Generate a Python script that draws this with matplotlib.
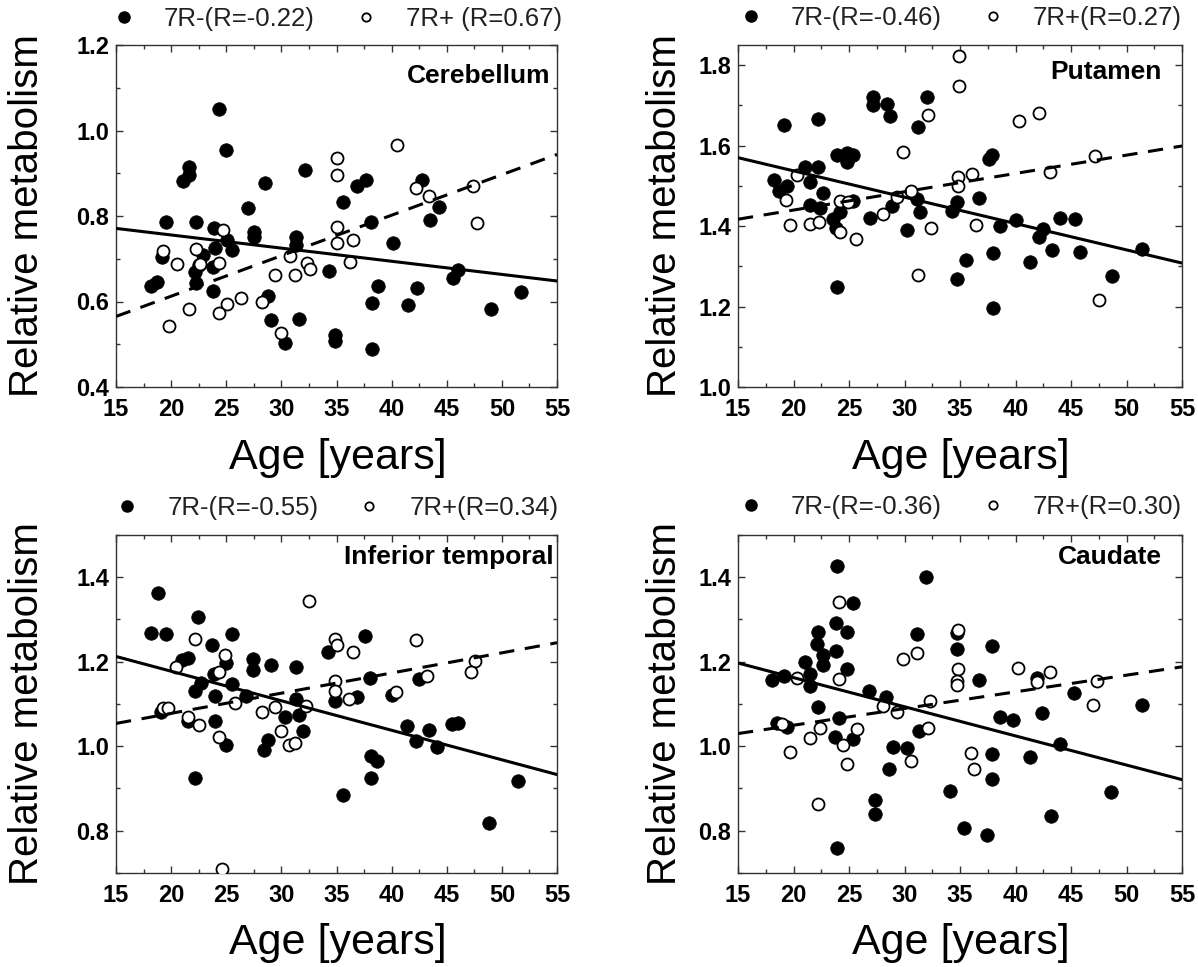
import matplotlib
matplotlib.use("Agg")
import matplotlib.pyplot as plt
from matplotlib.lines import Line2D
from matplotlib.ticker import MultipleLocator, FormatStrFormatter

plt.rcParams['font.family'] = ['Liberation Sans', 'DejaVu Sans']

# ---------------- data ----------------
fit_x = [15, 55]

# Cerebellum
cer_neg_x = [24.3, 25.0, 21.6, 21.6, 21.1, 32.1, 28.5, 27.0, 37.7, 36.9, 35.6, 42.8, 44.3, 43.5,
             38.1, 40.1, 19.5, 22.3, 23.9, 27.5, 27.5, 31.3, 31.3, 25.1, 25.5, 24.0, 22.9, 19.2,
             22.5, 22.2, 23.8, 22.3, 18.7, 18.2, 23.8, 28.8, 34.3, 29.1, 31.6, 30.3, 34.9, 34.9,
             38.2, 38.2, 38.8, 41.5, 42.3, 46.0, 45.6, 49.0, 51.7]
cer_neg_y = [1.050, 0.954, 0.915, 0.895, 0.881, 0.907, 0.878, 0.819, 0.884, 0.871, 0.833, 0.885,
             0.820, 0.790, 0.786, 0.738, 0.786, 0.785, 0.771, 0.763, 0.751, 0.750, 0.732, 0.745,
             0.720, 0.724, 0.708, 0.704, 0.685, 0.669, 0.681, 0.643, 0.646, 0.636, 0.625, 0.612,
             0.671, 0.556, 0.560, 0.504, 0.521, 0.507, 0.490, 0.597, 0.636, 0.591, 0.632, 0.673,
             0.654, 0.583, 0.622]
cer_pos_x = [40.5, 35.0, 35.0, 47.4, 42.2, 43.4, 47.7, 35.0, 35.0, 36.5, 36.2, 24.7, 19.3, 22.3,
             20.5, 22.6, 24.3, 30.8, 32.3, 32.6, 29.4, 31.2, 26.3, 25.1, 24.3, 21.6, 28.2, 19.8, 30.0]
cer_pos_y = [0.967, 0.936, 0.897, 0.870, 0.866, 0.846, 0.784, 0.775, 0.737, 0.743, 0.693, 0.767,
             0.718, 0.723, 0.687, 0.687, 0.690, 0.706, 0.690, 0.677, 0.663, 0.663, 0.609, 0.593,
             0.573, 0.582, 0.599, 0.542, 0.526]
cer_neg_fit = [0.771, 0.648]
cer_pos_fit = [0.565, 0.944]

# Putamen
put_neg_x = [19.1, 22.2, 27.2, 27.2, 28.4, 28.7, 32.0, 31.2, 23.9, 24.8, 25.4, 24.8, 37.6, 37.9,
             21.0, 22.2, 18.2, 21.5, 19.4, 18.7, 22.7, 21.5, 22.4, 24.2, 23.6, 23.8, 25.4, 28.9,
             31.1, 31.4, 26.9, 30.2, 34.7, 34.3, 36.7, 38.6, 40.0, 42.5, 42.1, 44.0, 45.4, 43.3,
             45.8, 41.3, 35.5, 38.0, 34.7, 23.9, 51.4, 48.7, 38.0]
put_neg_y = [1.652, 1.667, 1.722, 1.701, 1.703, 1.674, 1.722, 1.645, 1.576, 1.581, 1.576, 1.558,
             1.566, 1.576, 1.548, 1.546, 1.515, 1.510, 1.500, 1.488, 1.482, 1.453, 1.446, 1.435,
             1.417, 1.396, 1.463, 1.450, 1.467, 1.436, 1.421, 1.391, 1.460, 1.438, 1.469, 1.400,
             1.415, 1.392, 1.372, 1.421, 1.417, 1.341, 1.336, 1.311, 1.315, 1.333, 1.268, 1.249,
             1.344, 1.275, 1.196]
put_pos_x = [34.9, 34.9, 32.1, 40.3, 42.1, 29.9, 47.2, 43.1, 36.1, 34.8, 34.8, 30.6, 29.3, 20.3,
             19.3, 24.2, 24.9, 28.1, 19.7, 21.5, 22.3, 24.2, 25.6, 32.4, 36.4, 31.2, 47.5]
put_pos_y = [1.822, 1.749, 1.677, 1.660, 1.680, 1.585, 1.575, 1.535, 1.529, 1.522, 1.500, 1.488,
             1.473, 1.527, 1.465, 1.463, 1.461, 1.430, 1.403, 1.406, 1.411, 1.384, 1.367, 1.394,
             1.402, 1.279, 1.216]
put_neg_fit = [1.570, 1.308]
put_pos_fit = [1.417, 1.599]

# Inferior temporal
it_neg_x = [18.8, 18.2, 19.5, 22.4, 25.5, 23.7, 21.5, 21.0, 25.0, 27.4, 27.4, 29.1, 31.3, 34.2,
            37.6, 38.0, 42.5, 23.9, 22.7, 22.2, 24.0, 25.5, 26.8, 31.3, 30.3, 31.6, 34.9, 36.9,
            40.0, 19.1, 21.5, 24.0, 32.0, 28.8, 28.4, 25.0, 41.4, 43.4, 45.5, 46.0, 42.2, 44.1,
            38.1, 38.7, 38.1, 22.2, 35.6, 51.5, 48.8]
it_neg_y = [1.362, 1.269, 1.265, 1.305, 1.265, 1.240, 1.210, 1.205, 1.197, 1.207, 1.181, 1.193,
            1.187, 1.224, 1.262, 1.162, 1.158, 1.170, 1.150, 1.130, 1.119, 1.148, 1.119, 1.111,
            1.070, 1.074, 1.107, 1.117, 1.121, 1.080, 1.060, 1.059, 1.037, 1.015, 0.990, 1.002,
            1.048, 1.038, 1.052, 1.054, 1.013, 0.998, 0.976, 0.964, 0.925, 0.926, 0.884, 0.918,
            0.818]
it_pos_x = [32.5, 42.2, 34.9, 35.0, 36.5, 22.2, 24.9, 24.3, 20.4, 43.2, 47.6, 47.2, 34.9, 34.9,
            36.1, 40.4, 25.8, 29.4, 32.2, 19.3, 19.7, 28.2, 21.5, 22.5, 30.0, 30.7, 31.2, 24.3,
            24.6]
it_pos_y = [1.344, 1.252, 1.255, 1.240, 1.222, 1.255, 1.216, 1.175, 1.187, 1.166, 1.201, 1.176,
            1.155, 1.130, 1.111, 1.129, 1.102, 1.094, 1.095, 1.091, 1.091, 1.080, 1.070, 1.050,
            1.037, 1.003, 1.008, 1.023, 0.709]
it_neg_fit = [1.2125, 0.933]
it_pos_fit = [1.054, 1.245]

# Caudate
cau_neg_x = [23.9, 31.9, 25.4, 23.8, 24.8, 22.2, 22.1, 22.7, 22.7, 23.8, 31.1, 21.0, 24.8, 21.5,
             21.5, 18.1, 19.1, 26.8, 28.3, 34.7, 34.7, 37.9, 36.7, 41.9, 45.3, 51.4, 22.2, 24.1,
             18.5, 19.4, 38.6, 39.8, 42.4, 23.7, 25.4, 31.3, 29.0, 30.2, 28.6, 37.9, 41.3, 44.0,
             37.9, 34.1, 27.3, 27.3, 43.2, 35.4, 37.4, 48.6, 23.9]
cau_neg_y = [1.427, 1.400, 1.340, 1.291, 1.270, 1.271, 1.242, 1.215, 1.193, 1.226, 1.265, 1.200,
             1.182, 1.170, 1.143, 1.156, 1.166, 1.131, 1.117, 1.229, 1.268, 1.238, 1.156, 1.162,
             1.127, 1.098, 1.094, 1.066, 1.055, 1.045, 1.069, 1.063, 1.078, 1.022, 1.018, 1.035,
             0.999, 0.995, 0.946, 0.981, 0.975, 1.006, 0.922, 0.893, 0.872, 0.839, 0.836, 0.806,
             0.790, 0.892, 0.759]
cau_pos_x = [24.1, 34.8, 29.9, 31.1, 34.8, 34.7, 34.7, 40.2, 43.1, 41.9, 47.3, 47.0, 24.1, 20.3,
             32.3, 28.1, 29.3, 19.0, 22.4, 25.7, 32.1, 21.5, 24.5, 19.7, 36.0, 24.8, 30.6, 36.3,
             22.2]
cau_pos_y = [1.342, 1.274, 1.207, 1.221, 1.182, 1.154, 1.145, 1.186, 1.176, 1.153, 1.154, 1.098,
             1.160, 1.161, 1.106, 1.096, 1.082, 1.052, 1.044, 1.041, 1.044, 1.020, 1.003, 0.987,
             0.985, 0.957, 0.964, 0.946, 0.864]
cau_neg_fit = [1.197, 0.921]
cau_pos_fit = [1.030, 1.188]

titles = ["Cerebellum", "Putamen", "Inferior temporal", "Caudate"]
neg_labels = ["7R-(R=-0.22)", "7R-(R=-0.46)", "7R-(R=-0.55)", "7R-(R=-0.36)"]
pos_labels = ["7R+ (R=0.67)", "7R+(R=0.27)", "7R+(R=0.34)", "7R+(R=0.30)"]
ylims = [(0.4, 1.2), (1.0, 1.85), (0.7, 1.5), (0.7, 1.5)]
yticks = [[0.4, 0.6, 0.8, 1.0, 1.2], [1.0, 1.2, 1.4, 1.6, 1.8],
          [0.8, 1.0, 1.2, 1.4], [0.8, 1.0, 1.2, 1.4]]
xticks = [15, 20, 25, 30, 35, 40, 45, 50, 55]

panels = [
    (cer_neg_x, cer_neg_y, cer_pos_x, cer_pos_y, cer_neg_fit, cer_pos_fit),
    (put_neg_x, put_neg_y, put_pos_x, put_pos_y, put_neg_fit, put_pos_fit),
    (it_neg_x, it_neg_y, it_pos_x, it_pos_y, it_neg_fit, it_pos_fit),
    (cau_neg_x, cau_neg_y, cau_pos_x, cau_pos_y, cau_neg_fit, cau_pos_fit),
]

# ---------------- layout ----------------
W, H = 1198, 967
fig = plt.figure(figsize=(W / 100, H / 100), dpi=100)
boxes = [(116, 557, 45, 387), (738, 1182, 45, 387),
         (116, 557, 535, 873), (738, 1182, 535, 873)]
title_pos = [(0.985, 0.89), (0.955, 0.90), (0.993, 0.915), (0.955, 0.915)]
ylabel_x = [27, 665, 27, 665]
xlabel_y = [458, 458, 943, 943]
legend_y = [19, 18, 508, 507]

for i, (nx, ny, px, py, nf, pf) in enumerate(panels):
    l, r, t, b = boxes[i]
    ax = fig.add_axes([l / W, 1 - b / H, (r - l) / W, (b - t) / H])
    ax.scatter(nx, ny, s=95, c='black', edgecolors='black', linewidths=0.5, zorder=3)
    ax.scatter(px, py, s=75, facecolors='white', edgecolors='black', linewidths=1.3, zorder=4)
    ax.plot(fit_x, nf, color='black', lw=2.2, zorder=5)
    ax.plot(fit_x, pf, color='black', lw=2.2, ls=(0, (5, 3.5)), zorder=5)

    ax.set_xlim(15, 55)
    ax.set_ylim(*ylims[i])
    ax.set_xticks(xticks)
    ax.set_yticks(yticks[i])
    ax.xaxis.set_minor_locator(MultipleLocator(2.5))
    ax.yaxis.set_minor_locator(MultipleLocator(0.1))
    ax.yaxis.set_major_formatter(FormatStrFormatter('%.1f'))
    ax.tick_params(which='both', direction='in', top=True, right=True, colors='#333333',
                   labelcolor='black')
    ax.tick_params(which='major', length=5, width=1)
    ax.tick_params(which='minor', length=3, width=1)
    ax.tick_params(axis='x', labelsize=17, pad=8)
    ax.tick_params(axis='y', labelsize=17, pad=5)
    for lab in ax.get_xticklabels() + ax.get_yticklabels():
        lab.set_fontweight('bold')
    for sp in ax.spines.values():
        sp.set_color('#333333')
        sp.set_linewidth(1.0)

    ax.text(title_pos[i][0], title_pos[i][1], titles[i], transform=ax.transAxes,
            ha='right', va='baseline', fontsize=19, fontweight='bold')

    fig.text(ylabel_x[i] / W, 1 - ((t + b) / 2) / H, "Relative metabolism", rotation=90,
             ha='center', va='center', fontsize=29)
    fig.text(((l + r) / 2 + 1) / W, 1 - xlabel_y[i] / H, "Age [years]",
             ha='center', va='center', fontsize=31)

    handles = [Line2D([], [], ls='none', marker='o', ms=8, mfc='black', mec='black'),
               Line2D([], [], ls='none', marker='o', ms=6, mfc='white', mec='black', mew=1.3)]
    ax.legend(handles, [neg_labels[i], pos_labels[i]], ncol=2, loc='center',
              bbox_to_anchor=(((l + r) / 2) / W, 1 - legend_y[i] / H),
              bbox_transform=fig.transFigure, frameon=False, fontsize=18.5,
              handletextpad=1.06, columnspacing=1.48, handlelength=1.0,
              borderpad=0.0, labelcolor='#222222')

fig.savefig("out.png", dpi=100)
